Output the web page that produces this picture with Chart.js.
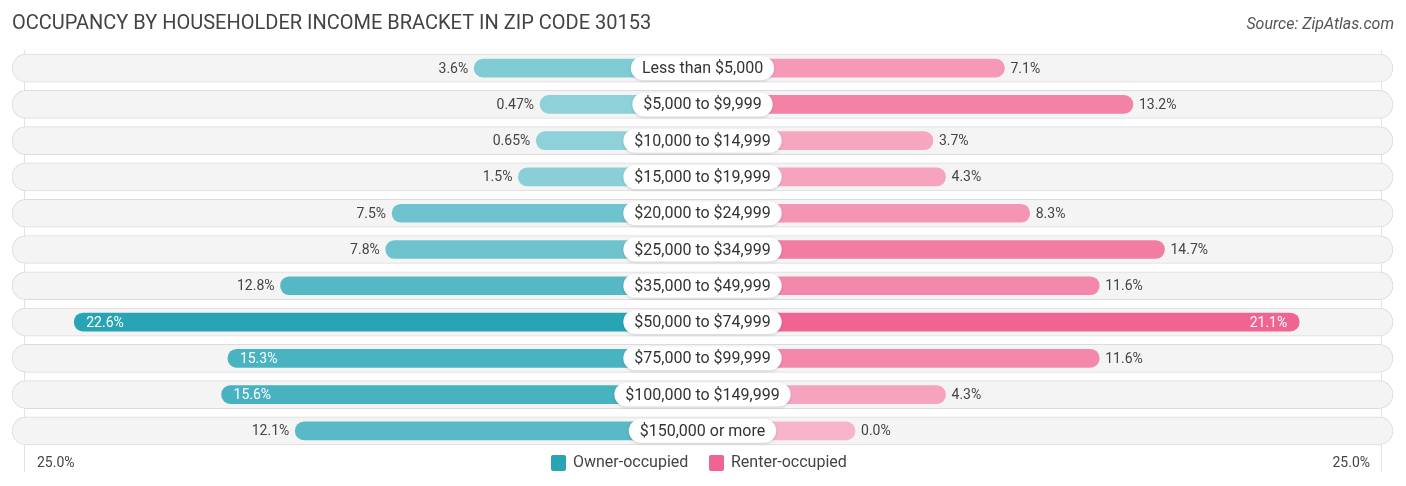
<!DOCTYPE html>
<html>
<head>
<meta charset="utf-8">
<script src="https://cdn.jsdelivr.net/npm/chart.js@4.4.0/dist/chart.umd.min.js"></script>
<style>
  html, body { margin: 0; padding: 0; background: #fff; }
  #wrap { position: relative; width: 1406px; height: 486px; }
</style>
</head>
<body>
<div id="wrap"><canvas id="occChart"></canvas></div>
<script>
const categories = ['Less than $5,000', '$5,000 to $9,999', '$10,000 to $14,999', '$15,000 to $19,999',
    '$20,000 to $24,999', '$25,000 to $34,999', '$35,000 to $49,999', '$50,000 to $74,999',
    '$75,000 to $99,999', '$100,000 to $149,999', '$150,000 or more'];
const ownerValues = [3.6, 0.47, 0.65, 1.5, 7.5, 7.8, 12.8, 22.6, 15.3, 15.6, 12.1];
const renterValues = [7.1, 13.2, 3.7, 4.3, 8.3, 14.7, 11.6, 21.1, 11.6, 4.3, 0.0];
const axisMax = 25;
const axisLabels = ['25.0%', '25.0%'];
const seriesNames = ['Owner-occupied', 'Renter-occupied'];

// half of the gap in the middle that holds the bracket labels, in axis units
const GAP = 7.245;
const EDGE = 32.8;

function fmt(v) {
    return (v > 0 && v < 1 ? v.toFixed(2) : v.toFixed(1)) + '%';
}

function mix(a, b, t) {
    let r = a.map((c, i) => Math.round(c + (b[i] - c) * t));
    return 'rgb(' + r.join(',') + ')';
}

const ownerColors = ownerValues.map(v => mix([145, 210, 218], [40, 164, 181], Math.min(v / 22.6, 1)));
const renterColors = renterValues.map(v => mix([248, 180, 202], [240, 100, 145], Math.min(v / 21.1, 1)));

const labelPlugin = {
    id: 'labelPlugin',
    beforeDraw(chart) {
        let c = chart.ctx;
        let x = chart.scales.x;
        let a = chart.chartArea;
        c.save();
        c.fillStyle = '#444';
        c.font = '20px Roboto';
        c.textBaseline = 'alphabetic';
        c.fillText('OCCUPANCY BY HOUSEHOLDER INCOME BRACKET IN ZIP CODE 30153', 12, 29);
        c.fillStyle = '#555';
        c.font = 'italic 16px Roboto';
        c.textAlign = 'right';
        c.fillText('Source: ZipAtlas.com', 1394, 29);
        // thin lines at +/- 25%
        c.strokeStyle = '#e2e2e2';
        c.lineWidth = 1;
        [x.getPixelForValue(-GAP - axisMax), x.getPixelForValue(GAP + axisMax)].forEach(px => {
            c.beginPath();
            c.moveTo(Math.round(px) + 0.5, a.top);
            c.lineTo(Math.round(px) + 0.5, 472);
            c.stroke();
        });
        c.restore();
    },
    afterDatasetsDraw(chart) {
        let c = chart.ctx;
        let x = chart.scales.x;
        let y = chart.scales.y;
        let mid = x.getPixelForValue(0);
        c.save();
        c.textBaseline = 'middle';
        categories.forEach((cat, i) => {
            let cy = y.getPixelForValue(i);
            // bracket label box
            c.font = '16px Roboto';
            let w = c.measureText(cat).width + 22;
            c.fillStyle = '#fff';
            c.shadowColor = 'rgba(0,0,0,0.15)';
            c.shadowBlur = 3;
            c.shadowOffsetY = 1;
            c.beginPath();
            c.roundRect(mid - w / 2, cy - 12, w, 24, 12);
            c.fill();
            c.shadowColor = 'transparent';
            c.fillStyle = '#333';
            c.textAlign = 'center';
            c.fillText(cat, mid, cy + 1);

            c.font = '14px Roboto';
            // owner value
            let ov = ownerValues[i];
            let oEnd = x.getPixelForValue(-GAP - ov);
            if (ov > 15) {
                c.fillStyle = '#fff';
                c.textAlign = 'left';
                c.fillText(fmt(ov), oEnd + 12, cy + 1);
            } else {
                c.fillStyle = '#444';
                c.textAlign = 'right';
                c.fillText(fmt(ov), oEnd - 6, cy + 1);
            }
            // renter value
            let rv = renterValues[i];
            let rEnd = x.getPixelForValue(GAP + rv);
            if (rv > 15) {
                c.fillStyle = '#fff';
                c.textAlign = 'right';
                c.fillText(fmt(rv), rEnd - 12, cy + 1);
            } else {
                c.fillStyle = '#444';
                c.textAlign = 'left';
                c.fillText(fmt(rv), rEnd + 6, cy + 1);
            }
        });

        // bottom axis labels and legend
        let ly = 463;
        c.font = '14px Roboto';
        c.fillStyle = '#444';
        c.textAlign = 'left';
        c.fillText(axisLabels[0], 37, ly);
        c.textAlign = 'right';
        c.fillText(axisLabels[1], 1370, ly);

        c.font = '16px Roboto';
        c.textAlign = 'left';
        c.fillStyle = 'rgb(40,164,181)';
        c.beginPath();
        c.roundRect(551, ly - 8, 15, 16, 2);
        c.fill();
        c.fillStyle = '#444';
        c.fillText(seriesNames[0], 573, ly);
        c.fillStyle = 'rgb(240,100,145)';
        c.beginPath();
        c.roundRect(709, ly - 8, 15, 16, 2);
        c.fill();
        c.fillStyle = '#444';
        c.fillText(seriesNames[1], 731, ly);
        c.restore();
    }
};

let ctx = document.getElementById('occChart').getContext('2d');

let occChart = new Chart(ctx, {
    type: 'bar',
    data: {
        labels: categories,
        datasets: [{
            label: 'row',
            data: categories.map(() => [-EDGE, EDGE]),
            backgroundColor: '#f4f4f4',
            borderColor: '#dcdcdc',
            borderWidth: 1,
            borderRadius: 14,
            borderSkipped: false,
            barThickness: 28,
            grouped: false,
            order: 3,
        }, {
            label: seriesNames[0],
            data: ownerValues.map(v => [-GAP - v, 0]),
            backgroundColor: ownerColors,
            borderRadius: 9,
            borderSkipped: false,
            barThickness: 18,
            grouped: false,
            order: 1,
        }, {
            label: seriesNames[1],
            data: renterValues.map(v => [0, GAP + v]),
            backgroundColor: renterColors,
            borderRadius: 9,
            borderSkipped: false,
            barThickness: 18,
            grouped: false,
            order: 1,
        }]
    },
    options: {
        indexAxis: 'y',
        responsive: true,
        maintainAspectRatio: false,
        animation: false,
        layout: {
            padding: { top: 50, bottom: 37, left: 12, right: 13 }
        },
        plugins: {
            legend: { display: false },
            tooltip: { enabled: false },
        },
        scales: {
            x: {
                display: false,
                min: -EDGE,
                max: EDGE,
            },
            y: {
                display: false,
            }
        }
    },
    plugins: [labelPlugin]
});
</script>
</body>
</html>
